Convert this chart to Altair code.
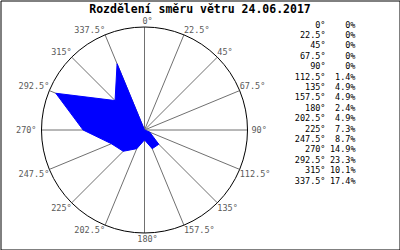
import math
import altair as alt
import pandas as pd

title_text = "Rozdělení směru větru 24.06.2017"
directions = [0, 22.5, 45, 67.5, 90, 112.5, 135, 157.5, 180, 202.5, 225, 247.5, 270, 292.5, 315, 337.5]
values = [0, 0, 0, 0, 0, 1.4, 4.9, 4.9, 2.4, 4.9, 7.3, 8.7, 14.9, 23.3, 10.1, 17.4]
dir_labels = ["0°", "22.5°", "45°", "67.5°", "90°", "112.5°", "135°", "157.5°",
              "180°", "202.5°", "225°", "247.5°", "270°", "292.5°", "315°", "337.5°"]
pct_labels = ["0%", "0%", "0%", "0%", "0%", "1.4%", "4.9%", "4.9%",
              "2.4%", "4.9%", "7.3%", "8.7%", "14.9%", "23.3%", "10.1%", "17.4%"]
r_max = 25

# layout (pixels inside the view)
W, H = 399, 249
CX, CY, R = 144, 129.5, 103

xs = alt.Scale(domain=[-r_max, r_max], range=[CX - R, CX + R])
ys = alt.Scale(domain=[-r_max, r_max], range=[CY + R, CY - R])
noax = dict(axis=None)

base = pd.DataFrame({"dir": directions, "val": values, "lab": dir_labels,
                     "pct": pct_labels, "row": list(range(len(directions)))})

poly = pd.DataFrame({"dir": directions + [directions[0]],
                     "val": values + [values[0]],
                     "ord": list(range(len(directions) + 1))})

polygon = alt.Chart(poly).transform_calculate(
    px="sin(datum.dir*PI/180)*datum.val",
    py="cos(datum.dir*PI/180)*datum.val",
).mark_line(fill="#0000ff", stroke="#0000ff", strokeWidth=1).encode(
    x=alt.X("px:Q", scale=xs, **noax),
    y=alt.Y("py:Q", scale=ys, **noax),
    order="ord:Q",
)

spokes = alt.Chart(base).transform_calculate(
    x0="0", y0="0",
    xe=f"sin(datum.dir*PI/180)*{r_max}",
    ye=f"cos(datum.dir*PI/180)*{r_max}",
).mark_rule(color="#707070", strokeWidth=1).encode(
    x=alt.X("x0:Q", scale=xs, **noax), x2="xe:Q",
    y=alt.Y("y0:Q", scale=ys, **noax), y2="ye:Q",
)

circle = alt.Chart(pd.DataFrame({"c": [0]})).mark_arc(
    radius=R, theta=0, theta2=2 * math.pi, filled=False, stroke="#000000", strokeWidth=1
).encode(
    x=alt.X("c:Q", scale=xs, **noax),
    y=alt.Y("c:Q", scale=ys, **noax),
)

groups = [
    ([0], "center", "bottom", 3, -1),
    ([22.5, 45, 67.5], "left", "bottom", 0, 0),
    ([90], "left", "middle", 4, 0),
    ([112.5, 135, 157.5], "left", "top", 0, 1),
    ([180], "center", "top", 3, 2),
    ([202.5, 225, 247.5], "right", "top", 0, 1),
    ([270], "right", "middle", -5, 0),
    ([292.5, 315, 337.5], "right", "bottom", 0, 0),
]
label_layers = []
for dirs, al, bl, dx, dy in groups:
    label_layers.append(
        alt.Chart(base).transform_filter(
            alt.FieldOneOfPredicate(field="dir", oneOf=dirs)
        ).transform_calculate(
            lx=f"sin(datum.dir*PI/180)*{r_max}",
            ly=f"cos(datum.dir*PI/180)*{r_max}",
        ).mark_text(align=al, baseline=bl, dx=dx, dy=dy, font="DejaVu Sans Mono",
                    fontSize=8.5, color="#5a5a5a").encode(
            x=alt.X("lx:Q", scale=xs, **noax),
            y=alt.Y("ly:Q", scale=ys, **noax),
            text="lab:N",
        )
    )

leg_y = alt.Scale(domain=[0, 15], range=[24, 180])
legend_dir = alt.Chart(base).mark_text(align="right", baseline="middle", font="DejaVu Sans Mono",
                                       fontSize=8.5, color="#000000").encode(
    x=alt.value(325), y=alt.Y("row:Q", scale=leg_y, **noax), text="lab:N")
legend_pct = alt.Chart(base).mark_text(align="right", baseline="middle", font="DejaVu Sans Mono",
                                       fontSize=8.5, color="#000000").encode(
    x=alt.value(355), y=alt.Y("row:Q", scale=leg_y, **noax), text="pct:N")

chart = alt.layer(spokes, polygon, circle, *label_layers, legend_dir, legend_pct).resolve_scale(
    x="independent", y="independent"
).properties(
    width=W, height=H,
    autosize=alt.AutoSizeParams(type="none"),
    padding=0.5,
    background="#ffffff",
    title=alt.TitleParams(title_text, anchor="middle", offset=-15, font="DejaVu Sans Mono",
                          fontSize=11.5, fontWeight="bold", color="#000000"),
).configure_view(stroke="#000000", strokeWidth=1)

chart.save("out.html", embed_options={"renderer": "svg", "actions": False})
